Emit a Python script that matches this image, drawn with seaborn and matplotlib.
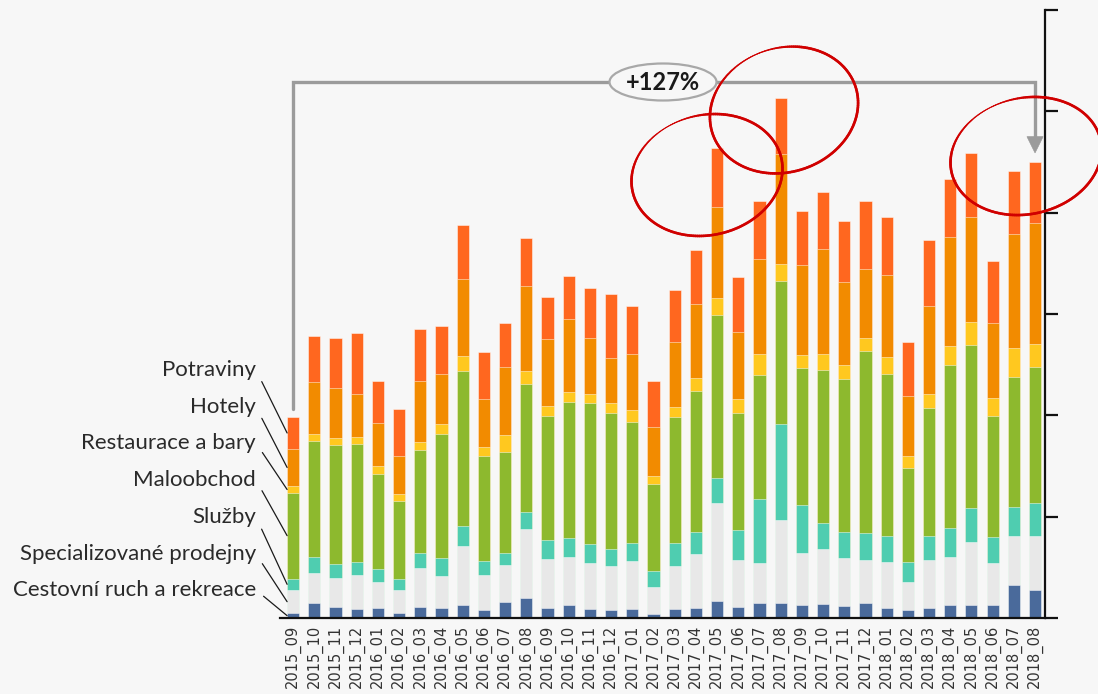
import matplotlib
matplotlib.use("Agg")
import numpy as np
import pandas as pd
import seaborn as sns
import matplotlib.pyplot as plt
from matplotlib.patches import Ellipse, Polygon
from matplotlib.collections import LineCollection

# ---- data -------------------------------------------------------------
months = ["2015_09", "2015_10", "2015_11", "2015_12",
          "2016_01", "2016_02", "2016_03", "2016_04", "2016_05", "2016_06",
          "2016_07", "2016_08", "2016_09", "2016_10", "2016_11", "2016_12",
          "2017_01", "2017_02", "2017_03", "2017_04", "2017_05", "2017_06",
          "2017_07", "2017_08", "2017_09", "2017_10", "2017_11", "2017_12",
          "2018_01", "2018_02", "2018_03", "2018_04", "2018_05", "2018_06",
          "2018_07", "2018_08"]

cestovni_ruch = [4.6, 15.2, 10.6, 8.8, 9.9, 5.3, 10.6, 10.2, 12.4, 7.8,
                 16.2, 20.1, 10.2, 12.4, 9.2, 8.1, 8.5, 4.2, 9.2, 9.5,
                 16.9, 11.3, 14.8, 14.5, 12.4, 13.4, 11.7, 14.5, 9.5, 8.1,
                 10.2, 12.4, 13.1, 13.1, 32.5, 27.2]
specializovane = [23.0, 29.0, 29.3, 33.5, 26.1, 21.9, 39.2, 31.4, 58.6, 34.6,
                  35.7, 67.4, 47.7, 47.7, 44.8, 43.1, 47.3, 26.8, 41.7, 54.0,
                  96.4, 46.3, 39.9, 82.6, 51.9, 54.4, 47.7, 43.1, 45.5, 27.5,
                  47.3, 47.7, 61.8, 41.0, 48.4, 54.0]
sluzby = [11.3, 15.9, 13.8, 13.1, 12.7, 11.7, 14.1, 18.0, 19.8, 14.1,
          12.7, 17.3, 19.4, 19.1, 19.4, 17.3, 18.4, 15.2, 23.0, 21.2,
          25.1, 29.0, 62.5, 94.6, 47.0, 25.8, 25.4, 25.8, 25.8, 19.8,
          23.3, 29.0, 33.9, 26.1, 28.2, 32.1]
maloobchod = [84.7, 114.1, 116.9, 116.5, 93.2, 76.3, 102.0, 122.2, 152.9, 103.5,
              99.6, 126.1, 121.8, 133.5, 138.4, 133.8, 119.0, 85.8, 124.3, 139.1,
              160.7, 115.8, 122.5, 140.9, 135.6, 151.1, 151.5, 179.7, 159.6, 92.9,
              126.4, 160.7, 160.3, 119.0, 128.5, 134.2]
restaurace = [6.4, 7.8, 7.4, 7.1, 7.8, 7.1, 8.1, 9.2, 14.5, 9.2,
              16.2, 12.7, 9.9, 10.6, 8.8, 9.9, 11.7, 7.8, 10.2, 13.1,
              16.9, 13.4, 20.5, 16.6, 12.4, 15.5, 13.4, 13.1, 16.9, 12.0,
              14.1, 18.4, 22.6, 17.7, 29.0, 22.6]
hotely = [37.1, 51.2, 48.7, 42.4, 43.1, 37.1, 60.0, 49.4, 76.3, 46.6,
          67.1, 84.4, 66.0, 71.7, 55.4, 44.1, 55.4, 49.1, 63.6, 72.7,
          89.7, 66.0, 93.9, 109.1, 89.3, 103.8, 82.3, 68.1, 81.6, 58.6,
          86.9, 107.7, 103.8, 74.5, 112.3, 119.3]
potraviny = [31.0, 44.8, 49.4, 59.7, 41.3, 46.6, 50.8, 47.3, 53.0, 47.0,
             43.4, 46.6, 41.3, 42.7, 49.8, 63.9, 47.3, 44.8, 51.6, 53.3,
             57.9, 55.1, 57.2, 54.7, 53.0, 56.1, 59.7, 67.4, 57.2, 53.0,
             64.6, 57.2, 63.6, 61.1, 62.5, 60.7]

# bottom-to-top stacking order
series_names = ["Cestovní ruch a rekreace", "Specializované prodejny", "Služby",
                "Maloobchod", "Restaurace a bary", "Hotely", "Potraviny"]
series_values = [cestovni_ruch, specializovane, sluzby, maloobchod,
                 restaurace, hotely, potraviny]
series_colors = ["#4a6a9b", "#e8e8e8", "#4fcdb0", "#8db92e",
                 "#ffc81f", "#f28b00", "#ff671f"]

df = pd.DataFrame({name: vals for name, vals in zip(series_names, series_values)})
df.insert(0, "mesic", months)
stacked = df[series_names].cumsum(axis=1)

# ---- figure -----------------------------------------------------------
BG = "#f7f7f7"
W, H = 1098, 694
sns.set_theme(style="white")
plt.rcParams["font.family"] = ["Lato", "DejaVu Sans"]

fig = plt.figure(figsize=(W / 100, H / 100), dpi=100, facecolor=BG)
ax = fig.add_axes([280 / W, 76 / H, 765 / W, 608 / H], facecolor=BG)

bar_w = 0.57
for name, color in zip(series_names[::-1], series_colors[::-1]):
    sns.barplot(x=df["mesic"], y=stacked[name], order=months, color=color,
                saturation=1, width=bar_w, errorbar=None, ax=ax,
                edgecolor=(1, 1, 1, 0.55), linewidth=0.6)

ax.set_xlim(-0.62, 35.47)
ax.set_ylim(0, 600)
ax.set_xlabel("")
ax.set_ylabel("")

# right-hand value axis, labels sit outside the canvas
ax.yaxis.tick_right()
ax.set_yticks(np.arange(0, 601, 100))
ax.tick_params(axis="y", direction="out", length=9, width=1.6, color="#111",
               labelright=False, labelleft=False, left=False)
ax.tick_params(axis="x", length=0, pad=5)
ax.set_xticks(range(len(months)))
ax.set_xticklabels(months, rotation=90, fontsize=10.5, color="#333",
                   family="DejaVu Sans")
for side in ["left", "top"]:
    ax.spines[side].set_visible(False)
for side in ["right", "bottom"]:
    ax.spines[side].set_color("#111")
    ax.spines[side].set_linewidth(1.6)

# ---- growth bracket between first and last month ----------------------
totals = stacked[series_names[-1]].to_numpy()
growth = (totals[-1] / totals[0] - 1) * 100
gray = "#9b9b9b"
ax.plot([0, 0, 35, 35], [206, 529, 529, 474], color=gray, lw=2.4,
        solid_joinstyle="miter", clip_on=False, zorder=5)
ax.add_patch(Polygon([[35 - 0.38, 475], [35 + 0.38, 475], [35, 459]],
                     closed=True, fc=gray, ec=gray, lw=0.5, zorder=6,
                     clip_on=False))

px = fig.dpi_scale_trans


def pix(x, y):
    return (x / 100, (H - y) / 100)


fig.add_artist(Ellipse(pix(663, 82), 1.07, 0.37, transform=px,
                       fc=BG, ec="#a8a8a8", lw=1.6, zorder=7))
fig.text(663 / W, 1 - 83 / H, f"+{growth:.0f}%", ha="center", va="center",
         fontsize=17, fontweight="bold", color="#1a1a1a", zorder=8)


# ---- hand-drawn highlight rings ---------------------------------------
def ring(cx, cy, w, h, ang, start_deg, overshoot_deg, color="#d00000"):
    t = np.radians(np.linspace(start_deg, start_deg + 360 + overshoot_deg, 260))
    a, b = w / 2, h / 2
    wob = 1 + 0.025 * np.sin(2 * t + 0.6)
    x0, y0 = a * np.cos(t) * wob, b * np.sin(t) * wob
    r = np.radians(ang)
    xs = cx + x0 * np.cos(r) - y0 * np.sin(r)
    ys = (H - cy) + x0 * np.sin(r) + y0 * np.cos(r)
    pts = np.column_stack([xs, ys]) / 100
    segs = np.stack([pts[:-1], pts[1:]], axis=1)
    u = np.linspace(0, 1, len(segs))
    taper = np.clip(np.minimum(u / 0.2, (1 - u) / 0.12), 0, 1)
    lws = 0.3 + 1.6 * taper
    lc = LineCollection(segs, linewidths=lws, colors=color,
                        capstyle="round", transform=px, zorder=9)
    fig.add_artist(lc)


ring(707, 175, 150, 122, 8, 95, 30)
ring(784, 110, 148, 126, 12, 80, 35)
ring(1026, 156, 150, 118, 8, 95, 30)

# ---- series labels with leader lines to the first bar -----------------
first = stacked.iloc[0].to_numpy()
bottoms = np.concatenate([[0], first[:-1]])
mids = (bottoms + first) / 2
label_y = [590, 554, 517, 480, 443, 407, 370]
for name, mid, ly in zip(series_names, mids, label_y):
    ax.annotate(name, xy=(-bar_w / 2, mid), xycoords="data",
                xytext=(256, H - ly), textcoords="figure pixels",
                ha="right", va="center", fontsize=16, color="#2a2a2a",
                annotation_clip=False,
                arrowprops=dict(arrowstyle="-", color="#1a1a1a", lw=0.9,
                                shrinkA=4, shrinkB=0, relpos=(1, 0.5)))

fig.savefig("out.png", dpi=100, facecolor=BG)
